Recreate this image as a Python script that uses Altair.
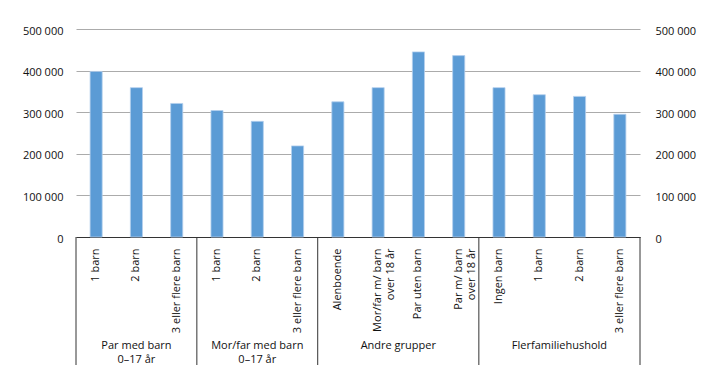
import altair as alt
import pandas as pd

groups = ["Par med barn|0–17 år", "Mor/far med barn|0–17 år", "Andre grupper", "Flerfamiliehushold"]
group_sizes = [3, 3, 4, 4]
bar_labels = [
    "1 barn", "2 barn", "3 eller flere barn",
    "1 barn", "2 barn", "3 eller flere barn",
    "Alenboende", "Mor/far m/ barn|over 18 år", "Par uten barn", "Par m/ barn|over 18 år",
    "Ingen barn", "1 barn", "2 barn", "3 eller flere barn",
]
values = [398000, 359000, 321000, 304000, 278000, 219000,
          325000, 359000, 445000, 436000,
          359000, 342000, 338000, 295000]
y_ticks = [0, 100000, 200000, 300000, 400000, 500000]

# build tables
keys = []
for g, n in zip(groups, group_sizes):
    for j in range(n):
        keys.append(f"{len(keys)}::{bar_labels[len(keys)]}")
df = pd.DataFrame({"key": keys, "value": values})

bounds = [0]
for n in group_sizes:
    bounds.append(bounds[-1] + n)
sep_df = pd.DataFrame({"pos": bounds})
grp_df = pd.DataFrame({
    "center": [(bounds[i] + bounds[i + 1]) / 2 for i in range(len(groups))],
    "label": groups,
})

W, H = 564, 208
FONT = "Open Sans"
ylab = "replace(format(datum.value, ','), ',', ' ')"

bars = alt.Chart(df).mark_bar(
    width=alt.RelativeBandSize(0.3), color="#5B9BD5", stroke="#B4CFEE", strokeWidth=0.8
).encode(
    x=alt.X("key:N", sort=keys, scale=alt.Scale(paddingInner=0, paddingOuter=0),
            axis=alt.Axis(title=None, labelAngle=270, labelAlign="right", labelBaseline="middle",
                          labelPadding=11, ticks=False, domain=True, domainColor="#333333",
                          labelExpr="split(split(datum.label, '::')[1], '|')",
                          labelFontSize=11, labelColor="#111111", labelFont=FONT,
                          labelLineHeight=13)),
    y=alt.Y("value:Q", scale=alt.Scale(domain=[0, 500000], nice=False),
            axis=alt.Axis(title=None, values=y_ticks, grid=True, gridColor="#ababab",
                          domain=False, ticks=False, labelPadding=13, labelExpr=ylab,
                          labelFontSize=11, labelColor="#111111", labelFont=FONT, labelOffset=2)),
)

right = alt.Chart(df).mark_bar(opacity=0).encode(
    x=alt.X("key:N", sort=keys, scale=alt.Scale(paddingInner=0, paddingOuter=0), axis=None),
    y=alt.Y("value:Q", scale=alt.Scale(domain=[0, 500000], nice=False),
            axis=alt.Axis(title=None, orient="right", values=y_ticks, grid=False,
                          domain=False, ticks=False, labelPadding=15, labelExpr=ylab,
                          labelFontSize=11, labelColor="#111111", labelFont=FONT, labelOffset=2)),
)

seps = alt.Chart(sep_df).mark_rule(color="#333333", strokeWidth=1).encode(
    x=alt.X("pos:Q", scale=alt.Scale(domain=[0, bounds[-1]], nice=False, zero=False), axis=None),
    y=alt.value(H),
    y2=alt.value(H + 128),
)

glabels = alt.Chart(grp_df).mark_text(
    baseline="top", align="center", fontSize=11, font=FONT, color="#111111",
    lineBreak="|", lineHeight=14
).encode(
    x=alt.X("center:Q", scale=alt.Scale(domain=[0, bounds[-1]], nice=False, zero=False), axis=None),
    y=alt.value(H + 103),
    text="label:N",
)

chart = alt.layer(bars, right, seps, glabels).resolve_scale(
    x="independent", y="independent"
).properties(
    width=W, height=H,
    autosize=alt.AutoSizeParams(type="none"),
    padding={"left": 68, "top": 21, "right": 63, "bottom": 130},
).configure_view(stroke=None)

chart.save("out.html", embed_options={"renderer": "svg", "actions": False})
